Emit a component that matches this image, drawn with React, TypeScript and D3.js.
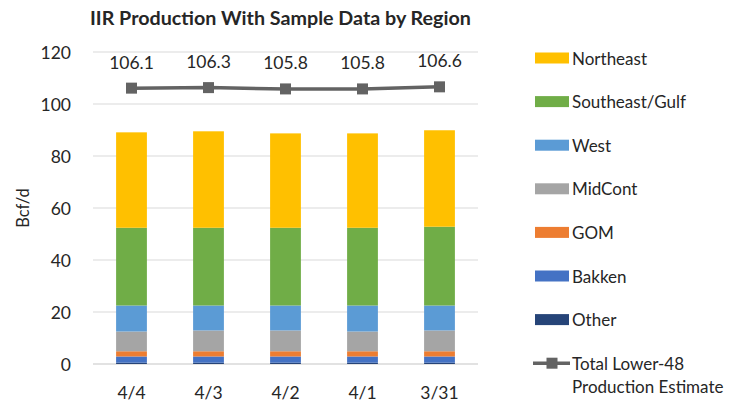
import React from "react";
import * as d3 from "d3";

const categories = ["4/4", "4/3", "4/2", "4/1", "3/31"];
const seriesNames = ["Other", "Bakken", "GOM", "MidCont", "West", "Southeast/Gulf", "Northeast"];
const other = [0.5, 0.5, 0.5, 0.5, 0.5];
const bakken = [2.4, 2.4, 2.4, 2.4, 2.4];
const gom = [2.0, 2.0, 2.0, 2.0, 2.0];
const midCont = [7.6, 8.0, 8.0, 7.6, 8.0];
const west = [10.0, 9.6, 9.6, 10.0, 9.6];
const southeast = [29.9, 29.9, 29.9, 29.9, 30.3];
const northeast = [36.7, 37.1, 36.3, 36.3, 37.1];
const totalL48 = [106.1, 106.3, 105.8, 105.8, 106.6];
const yTicks = [0, 20, 40, 60, 80, 100, 120];

const colors: Record<string, string> = {
  Other: "#264478",
  Bakken: "#4472C4",
  GOM: "#ED7D31",
  MidCont: "#A5A5A5",
  West: "#5B9BD5",
  "Southeast/Gulf": "#70AD47",
  Northeast: "#FFC000",
};

const seriesValues: Record<string, number[]> = {
  Other: other,
  Bakken: bakken,
  GOM: gom,
  MidCont: midCont,
  West: west,
  "Southeast/Gulf": southeast,
  Northeast: northeast,
};

const FONT = "Lato, 'Open Sans', sans-serif";
const LINE_COLOR = "#636363";

export default function App() {
  const width = 736;
  const height = 406;
  const plotLeft = 93;
  const plotRight = 478;
  const plotTop = 52;
  const plotBottom = 364;

  const x = d3.scaleBand<string>().domain(categories).range([plotLeft, plotRight]).paddingInner(0.6).paddingOuter(0.3);
  const y = d3.scaleLinear().domain([0, 120]).range([plotBottom, plotTop]);

  const table = categories.map((c, i) => {
    const row: Record<string, number | string> = { cat: c };
    seriesNames.forEach((s) => (row[s] = seriesValues[s][i]));
    return row;
  });
  const stacked = d3.stack<any>().keys(seriesNames)(table);

  const linePts = categories.map((c, i) => [x(c)! + x.bandwidth() / 2, y(totalL48[i])] as [number, number]);
  const lineGen = d3.line();

  const legendItems = [...seriesNames].reverse();
  const legendX = 535;
  const legendY0 = 58;
  const legendStep = 43.6;

  return (
    <svg width={width} height={height} style={{ position: "absolute", left: 0, top: 0, background: "#fff" }} fontFamily={FONT}>
      <rect x={0} y={0} width={width} height={height} fill="#fff" />
      <text x={90} y={25} fontSize={19.7} fontWeight={700} fill="#262626">
        IIR Production With Sample Data by Region
      </text>
      {/* gridlines */}
      {yTicks.map((t) => (
        <line key={t} x1={plotLeft} x2={plotRight} y1={y(t)} y2={y(t)} stroke="#D9D9D9" strokeWidth={t === 0 ? 1.5 : 1} />
      ))}
      {yTicks.map((t) => (
        <text key={"l" + t} x={71} y={y(t)} textAnchor="end" dominantBaseline="central" fontSize={17.5} fill="#262626">
          {t}
        </text>
      ))}
      <text transform={`translate(23,${(plotTop + plotBottom) / 2}) rotate(-90)`} textAnchor="middle" dominantBaseline="central" fontSize={16.5} fill="#262626">
        Bcf/d
      </text>
      {/* bars */}
      {stacked.map((layer) => (
        <g key={layer.key} fill={colors[layer.key]}>
          {layer.map((d, i) => (
            <rect key={i} x={x(categories[i])} width={x.bandwidth()} y={y(d[1])} height={y(d[0]) - y(d[1])} />
          ))}
        </g>
      ))}
      {/* x labels */}
      {categories.map((c) => (
        <text key={c} x={x(c)! + x.bandwidth() / 2} y={392} textAnchor="middle" dominantBaseline="central" fontSize={17.5} fill="#262626">
          {c}
        </text>
      ))}
      {/* line */}
      <path d={lineGen(linePts) || ""} fill="none" stroke={LINE_COLOR} strokeWidth={3.5} strokeLinejoin="round" />
      {linePts.map((p, i) => (
        <rect key={i} x={p[0] - 5.5} y={p[1] - 5.5} width={11} height={11} fill={LINE_COLOR} />
      ))}
      {linePts.map((p, i) => (
        <text key={"v" + i} x={p[0]} y={p[1] - 26} textAnchor="middle" dominantBaseline="central" fontSize={17.5} fill="#262626">
          {totalL48[i].toFixed(1)}
        </text>
      ))}
      {/* legend */}
      {legendItems.map((s, i) => {
        const cy = legendY0 + i * legendStep;
        return (
          <g key={s}>
            <rect x={legendX} y={cy - 5.5} width={34} height={11} fill={colors[s]} />
            <text x={572} y={cy} dominantBaseline="central" fontSize={17} fill="#262626">
              {s}
            </text>
          </g>
        );
      })}
      {(() => {
        const cy = legendY0 + legendItems.length * legendStep;
        return (
          <g>
            <line x1={533} x2={570} y1={cy} y2={cy} stroke={LINE_COLOR} strokeWidth={3.5} />
            <rect x={546.5} y={cy - 5.5} width={11} height={11} fill={LINE_COLOR} />
            <text x={572} y={cy} dominantBaseline="central" fontSize={17} fill="#262626">
              Total Lower-48
            </text>
            <text x={572} y={cy + 23.5} dominantBaseline="central" fontSize={17} fill="#262626">
              Production Estimate
            </text>
          </g>
        );
      })()}
    </svg>
  );
}
